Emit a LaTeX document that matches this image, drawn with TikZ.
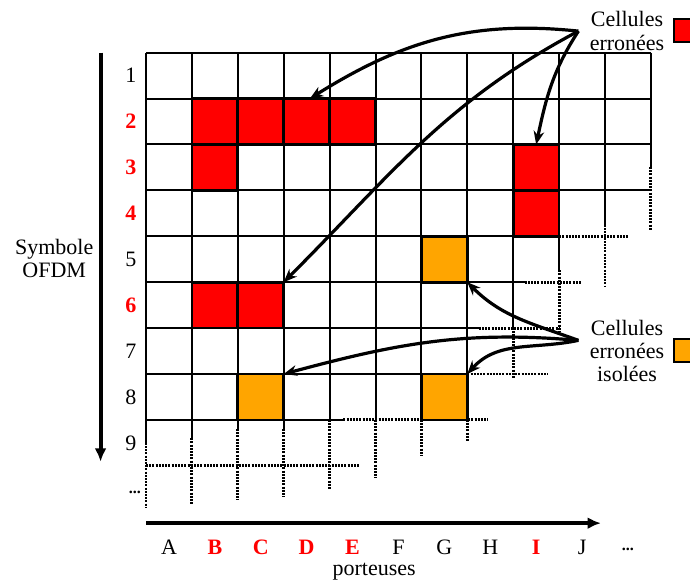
\documentclass[tikz,border=0pt]{standalone}
\usepackage{fontspec}
\setmainfont{Liberation Serif}
\usetikzlibrary{arrows.meta}
\definecolor{isoorange}{RGB}{255,165,0}

\begin{document}
\begin{tikzpicture}[x=34.43pt,y=34.43pt,
  every node/.style={font=\fontsize{16.5}{17.5}\selectfont},
  gridline/.style={line width=1.5pt},
  dotline/.style={line width=2.2pt,dash pattern=on 1.5pt off 0.9pt},
  errcell/.style={fill=red,draw=black,line width=2pt},
  isocell/.style={fill=isoorange,draw=black,line width=2pt},
  axis/.style={line width=3pt,-{Latex[length=10pt,width=9pt]}},
  callout/.style={line width=2.4pt,-{Stealth[length=10pt,width=8pt]}},
  redlbl/.style={text=red,font=\fontsize{16.5}{17.5}\selectfont\bfseries}]
\useasboundingbox (-3.181,1.148) rectangle (11.852,-11.488);

% grille
\foreach \j in {0,...,3}
  \draw[gridline] (0,-\j) -- (11,-\j);
\foreach \j/\s/\e in {4/9/10.5,5/8.25/9.5,6/7.25/9,7/7/8.75,8/4.3/7.45} {
  \draw[gridline] (0,-\j) -- (\s,-\j);
  \draw[dotline] (\s,-\j) -- (\e,-\j);
}
\draw[dotline] (0,-9) -- (4.67,-9);
\foreach \i/\s/\e in {0/8.5/9.92,1/8.4/9.85,2/8.2/9.75,3/8.2/9.68,4/8/9.5,5/8/9.27,
                      6/8/8.77,7/8/8.45,8/6/7.09,9/4.74/6.09,10/3.75/5.1,11/2.49/3.86} {
  \draw[gridline] (\i,0) -- (\i,-\s);
  \draw[dotline] (\i,-\s) -- (\i,-\e);
}

% cellules erronees
\foreach \c/\r in {1/2,2/2,3/2,4/2,1/3,8/3,8/4,1/6,2/6}
  \draw[errcell] (\c,1-\r) rectangle (\c+1,-\r);
\foreach \c/\r in {6/5,2/8,6/8}
  \draw[isocell] (\c,1-\r) rectangle (\c+1,-\r);

% numeros de symbole
\foreach \r in {1,5,7,8,9}
  \node (row\r) at (-0.33,0.5-\r) {\r};
\foreach \r in {2,3,4,6}
  \node[redlbl] (row\r) at (-0.33,0.5-\r) {\r};
\node[font=\fontsize{12}{12}\selectfont\bfseries] (rowdots) at (-0.24,-9.58) {...};

% porteuses
\foreach \c/\t in {0/A,5/F,6/G,7/H,9/J}
  \node[inner sep=1pt] (col\t) at (\c+0.5,-10.77) {\t};
\foreach \c/\t in {1/B,2/C,3/D,4/E,8/I}
  \node[redlbl,inner sep=1pt] (col\t) at (\c+0.5,-10.77) {\t};
\node[font=\fontsize{12}{12}\selectfont\bfseries] (coldots) at (10.5,-10.82) {...};
\node[inner sep=1pt] (porteuses) at (4.97,-11.3) {porteuses};

% axes
\coordinate (vtop) at (-0.99,0);
\coordinate (vbot) at (-0.99,-8.91);
\draw[axis] (vtop) -- (vbot);
\coordinate (hleft) at (0,-10.25);
\coordinate (hright) at (9.91,-10.25);
\draw[axis] (hleft) -- (hright);
\node[align=center] (ofdm) at (-2.0,-4.49) {Symbole\\OFDM};

% legende
\node[align=center] (errLbl) at (10.48,0.47) {Cellules\\erronées};
\node[fill=red,draw=black,line width=1.5pt,minimum size=17pt,inner sep=0pt] (errKey) at (11.74,0.49) {};
\node[align=center] (isoLbl) at (10.48,-6.50) {Cellules\\erronées\\isolées};
\node[fill=isoorange,draw=black,line width=1.5pt,minimum size=17pt,inner sep=0pt] (isoKey) at (11.74,-6.49) {};

\coordinate (errSrc) at ([xshift=-5pt]errLbl.west);
\coordinate (isoSrc) at ([xshift=-5pt,yshift=8pt]isoLbl.west);
\coordinate (tD2) at (3.57,-1);
\coordinate (tC6) at (3,-5);
\coordinate (tI3) at (8.5,-2);
\coordinate (tG5) at (7,-5);
\coordinate (tC8) at (3,-7);
\coordinate (tG8) at (7,-7);

\draw[callout] (errSrc) to[out=174,in=32] (tD2);
\draw[callout] (errSrc) to[out=208,in=45] (tC6);
\draw[callout] (errSrc) to[out=237,in=78] (tI3);
\draw[callout] (isoSrc) to[out=160,in=-45] (tG5);
\draw[callout] (isoSrc) to[out=175,in=15] (tC8);
\draw[callout] (isoSrc) to[out=192,in=48] (tG8);
\end{tikzpicture}
\end{document}
